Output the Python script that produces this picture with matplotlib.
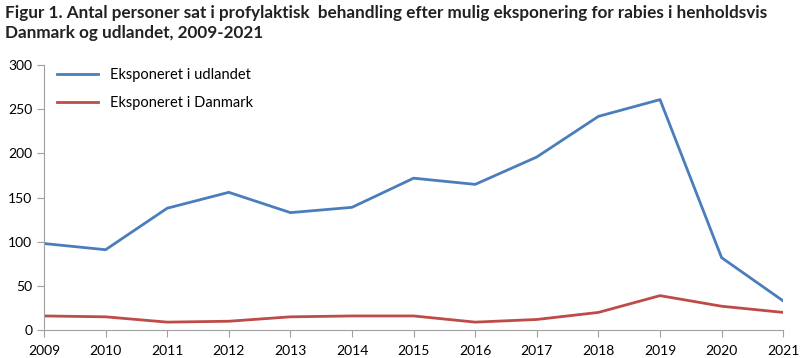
import matplotlib
matplotlib.use('Agg')
from matplotlib import pyplot as plt

# Data
years = list(range(2009, 2022))
abroad = [98, 91, 138, 156, 133, 139, 172, 165, 196, 242, 261, 82, 33]
denmark = [16, 15, 9, 10, 15, 16, 16, 9, 12, 20, 39, 27, 20]

plt.rcParams['font.family'] = ['Lato', 'DejaVu Sans']

fig = plt.figure(figsize=(8, 3.58), dpi=100)
ax = fig.add_axes([0.055, 0.078, 0.924, 0.74])

ax.plot(years, abroad, c='#4a7ebb', lw=2, label='Eksponeret i udlandet')
ax.plot(years, denmark, c='#be4b48', lw=2, label='Eksponeret i Danmark')

# Format plot.
ax.set_xlim(2009, 2021)
ax.set_ylim(0, 300)
ax.set_xticks(years)
ax.set_yticks(range(0, 301, 50))
for side in ['top', 'right']:
    ax.spines[side].set_visible(False)
for side in ['left', 'bottom']:
    ax.spines[side].set_color('#a0a0a0')
ax.tick_params(axis='both', colors='#a0a0a0', labelcolor='black',
               labelsize=10, length=5, direction='out')
ax.tick_params(axis='x', pad=6)

ax.legend(loc='upper left', frameon=False, fontsize=10.5,
          bbox_to_anchor=(0.0, 1.04), handlelength=2.8, labelspacing=1.0)

fig.text(0.006, 0.985, 'Figur 1. Antal personer sat i profylaktisk  behandling efter mulig eksponering for rabies i henholdsvis\nDanmark og udlandet, 2009-2021',
         ha='left', va='top', fontsize=12.3, fontweight='bold', color='#222222',
         linespacing=1.25)

fig.savefig('out.png', dpi=100)
